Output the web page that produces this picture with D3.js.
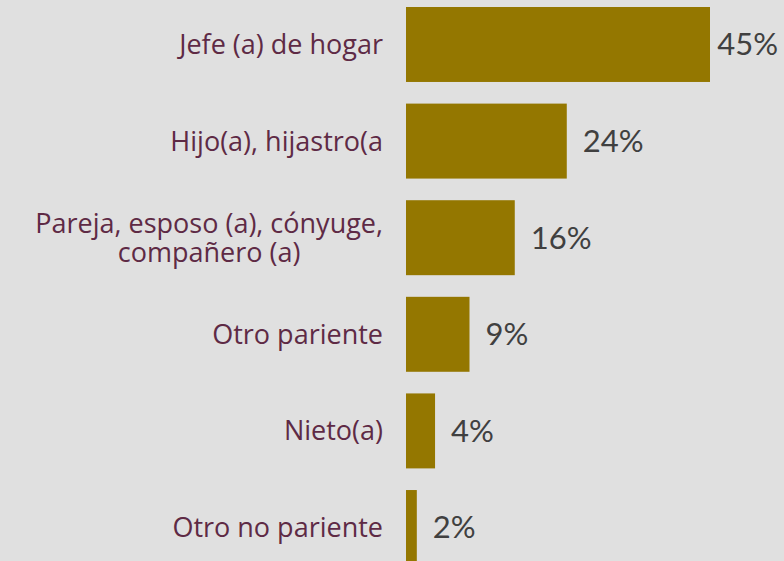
<!DOCTYPE html>
<meta charset="UTF-8">
<style>
body { margin: 0; background: #e0e0e0; }
.cat { font-family: "Open Sans", sans-serif; font-size: 27px; font-weight: 500; fill: #5e2a45; }
.val { font-family: "Lato", sans-serif; font-size: 31px; fill: #404040; }
</style>
<body>
<script src="https://d3js.org/d3.v7.min.js"></script>
<script>
// chart data
var categories = ["Jefe (a) de hogar", "Hijo(a), hijastro(a", "Pareja, esposo (a), cónyuge,\ncompañero (a)", "Otro pariente", "Nieto(a)", "Otro no pariente"];
var values = [45, 23.8, 16.1, 9.4, 4.3, 1.6];

var width = 784, height = 561;

var svg = d3.select("body").append("svg")
    .attr("width", width)
    .attr("height", height);

svg.append("rect")
    .attr("width", width)
    .attr("height", height)
    .attr("fill", "#e0e0e0");

var y = d3.scaleBand()
    .domain(categories)
    .range([7, 565])
    .paddingInner(0.224)
    .paddingOuter(0);

var x = d3.scaleLinear()
    .domain([0, 45])
    .range([406, 710]);

var rows = svg.selectAll("g.row")
    .data(categories)
  .enter().append("g")
    .attr("class", "row");

// bars
rows.append("rect")
    .attr("x", x(0))
    .attr("y", function(d) { return y(d); })
    .attr("width", function(d, i) { return x(values[i]) - x(0); })
    .attr("height", y.bandwidth())
    .attr("fill", "#947700");

// category labels: block right-aligned, lines centred within it
rows.append("text")
    .attr("class", "cat")
    .attr("text-anchor", "middle")
    .each(function(d) {
      var lines = d.split("\n");
      var cy = y(d) + y.bandwidth() / 2;
      var lh = 29;
      var t = d3.select(this);
      var spans = lines.map(function(line, j) {
        return t.append("tspan")
          .attr("y", cy + (j - (lines.length - 1) / 2) * lh)
          .attr("dy", "0.35em")
          .text(line);
      });
      var maxW = d3.max(spans, function(s) { return s.node().getComputedTextLength(); });
      spans.forEach(function(s) { s.attr("x", x(0) - 23 - maxW / 2); });
    });

// value labels, kept inside the right edge
var fmt = d3.format(".0f");
rows.append("text")
    .attr("class", "val")
    .attr("dy", "0.35em")
    .attr("y", function(d) { return y(d) + y.bandwidth() / 2; })
    .text(function(d, i) { return fmt(values[i]) + "%"; })
    .attr("x", function(d, i) {
      var w = this.getComputedTextLength();
      return Math.min(x(values[i]) + 16, width - w - 6);
    });
</script>
</body>
